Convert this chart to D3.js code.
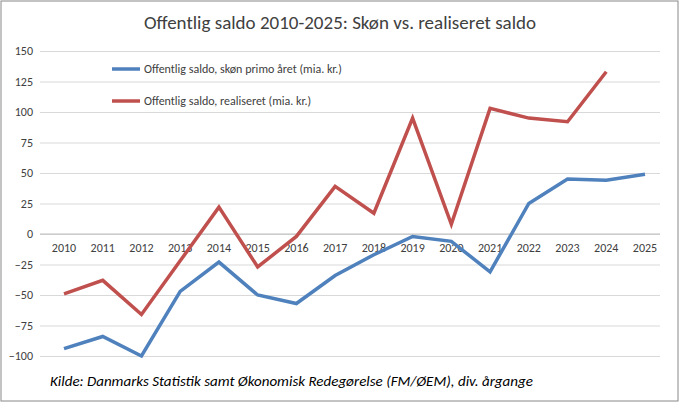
<!DOCTYPE html>
<html><head><meta charset="utf-8">
<script src="https://cdn.jsdelivr.net/npm/d3@7"></script>
<style>body{margin:0;background:#fff}text{font-family:Calibri,Carlito,"Liberation Sans",Arial,sans-serif}</style>
</head><body><svg width="680" height="403"></svg>
<script>
// values (mia. kr.)
var years = d3.range(2010, 2026);
var skoen = [-94,-84,-100,-47,-23,-50,-57,-34,-17,-2,-6,-31,25,45,44,49];
var real = [-49,-38,-66,-22,22,-27,-2,39,17,95,8,103,95,92,133,null];

var svg = d3.select('svg');
svg.append('rect').attr('x',1).attr('y',1).attr('width',677).attr('height',400)
  .attr('fill','#fff').attr('stroke','#888');

var x = d3.scaleLinear().domain([2010,2025]).range([64,645]);
var y = d3.scaleLinear().domain([-100,150]).range([356,51]);

svg.append('text').attr('x',340).attr('y',29).attr('text-anchor','middle')
  .attr('font-size',19).attr('fill','#404040').text('Offentlig saldo 2010-2025: Skøn vs. realiseret saldo');

var yAxis = svg.append('g').attr('transform','translate(40,0)')
  .call(d3.axisLeft(y).tickValues(d3.range(-100,151,25)).tickSize(-620).tickPadding(7));
yAxis.select('.domain').remove();
yAxis.selectAll('line').attr('stroke','#d9d9d9');
yAxis.selectAll('text').attr('font-size',12).attr('fill','#404040');

svg.append('line').attr('x1',40).attr('x2',660).attr('y1',y(0)).attr('y2',y(0)).attr('stroke','#bfbfbf');

years.forEach(function(yr){
  svg.append('text').attr('x',x(yr)).attr('y',y(0)+18).attr('text-anchor','middle')
    .attr('font-size',12).attr('fill','#404040').text(yr);
});

var line = d3.line().defined(function(d){return d[1]!==null;})
  .x(function(d){return x(d[0]);}).y(function(d){return y(d[1]);});

[[skoen,'#4f81bd'],[real,'#c0504d']].forEach(function(s){
  svg.append('path').datum(years.map(function(yr,i){return [yr,s[0][i]];}))
    .attr('d',line).attr('fill','none').attr('stroke',s[1]).attr('stroke-width',3.5);
});

var legend = [['Offentlig saldo, skøn primo året (mia. kr.)','#4f81bd',69],
  ['Offentlig saldo, realiseret (mia. kr.)','#c0504d',101]];
legend.forEach(function(l){
  svg.append('line').attr('x1',112).attr('x2',140).attr('y1',l[2]).attr('y2',l[2])
    .attr('stroke',l[1]).attr('stroke-width',3.5);
  svg.append('text').attr('x',144).attr('y',l[2]+4).attr('font-size',12)
    .attr('fill','#404040').text(l[0]);
});

svg.append('text').attr('x',50).attr('y',386).attr('font-size',15).attr('font-style','italic')
  .attr('fill','#000').text('Kilde: Danmarks Statistik samt Økonomisk Redegørelse (FM/ØEM), div. årgange');
</script></body></html>
